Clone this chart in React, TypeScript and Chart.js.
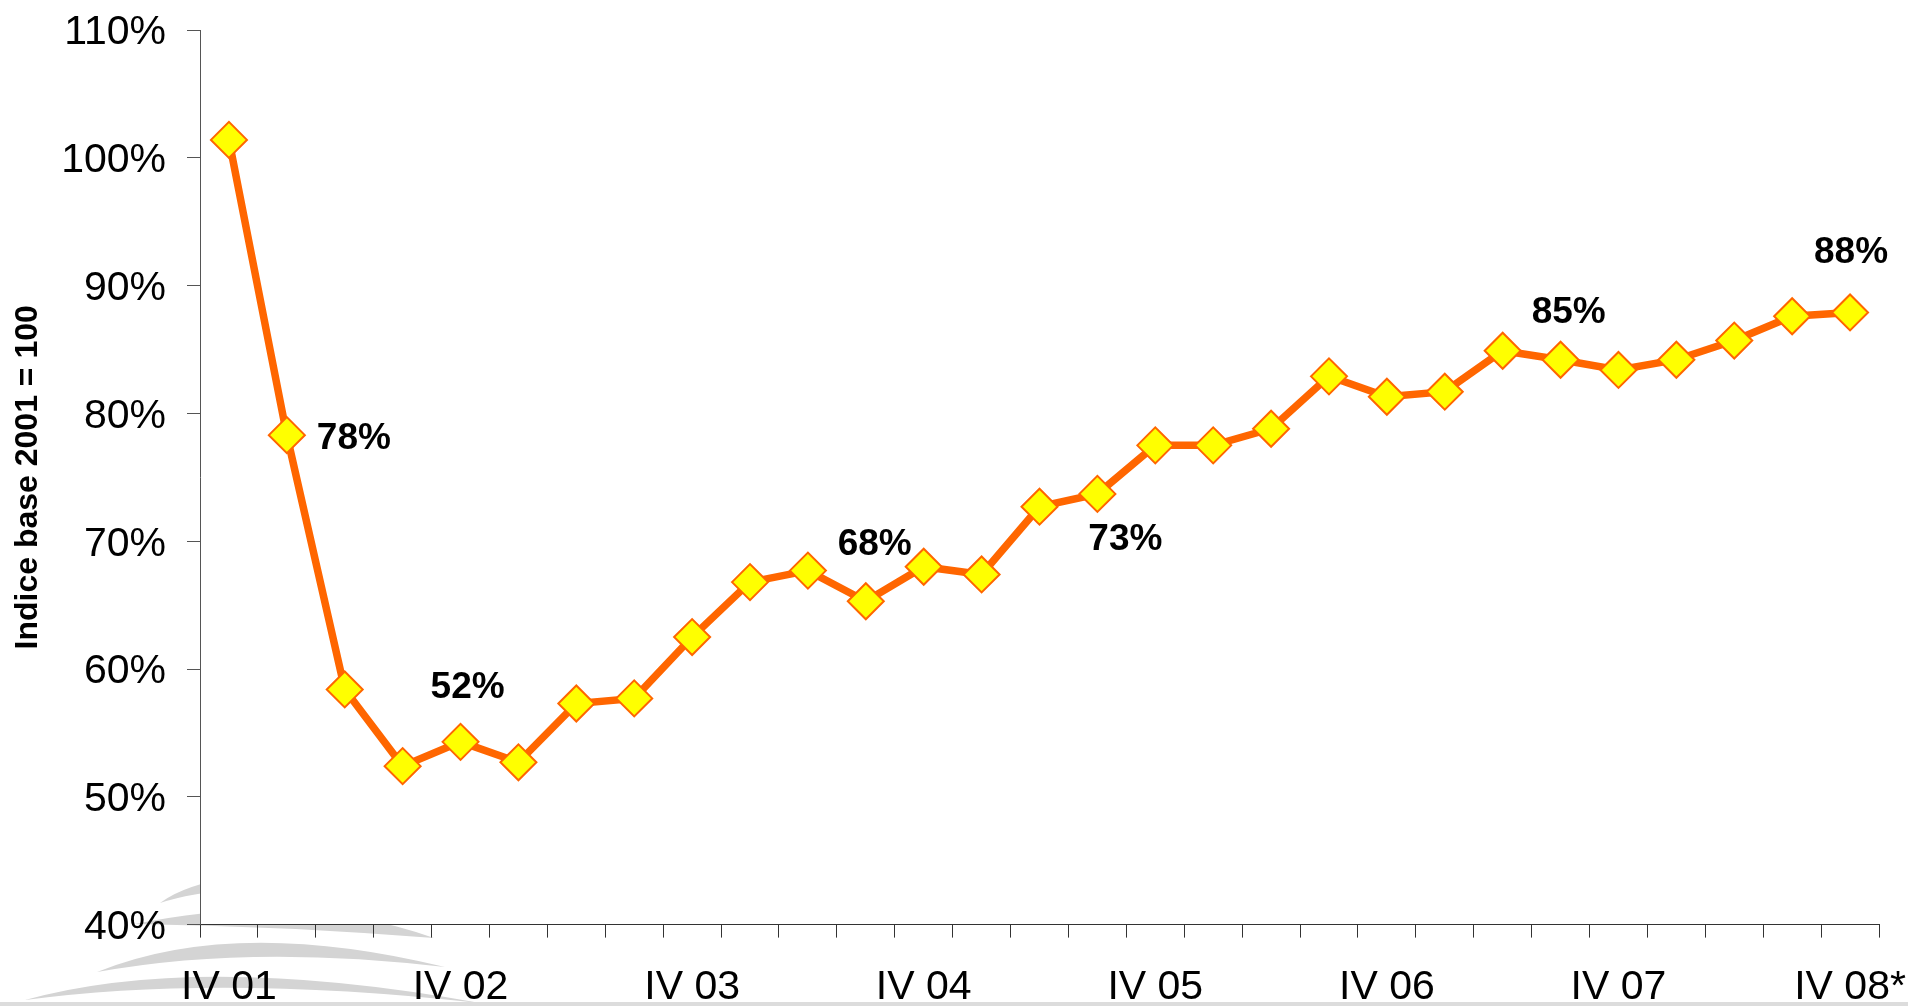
import React, { useEffect, useRef } from "react";
import { Chart, registerables } from "chart.js";

Chart.register(...registerables);

const categories = [
  "IV 01", "", "", "", "IV 02", "", "", "", "IV 03", "", "", "", "IV 04", "", "", "",
  "IV 05", "", "", "", "IV 06", "", "", "", "IV 07", "", "", "", "IV 08*",
];

const indexValues = [
  101.4, 78.3, 58.4, 52.4, 54.3, 52.7, 57.3, 57.7, 62.5, 66.8, 67.7, 65.3, 68.0, 67.4,
  72.7, 73.7, 77.5, 77.5, 78.8, 82.9, 81.3, 81.7, 84.9, 84.2, 83.4, 84.2, 85.7, 87.6, 87.9,
];

const yTicks = [40, 50, 60, 70, 80, 90, 100, 110];

const annotationIndex = [1, 3, 12, 15, 22, 28];
const annotationText = ["78%", "52%", "68%", "73%", "85%", "88%"];

const yTitle = "Indice base 2001 = 100";

const FONT = "'Liberation Sans', Arial, Helvetica, sans-serif";

// label offsets (pixels) relative to the annotated point
const annotationOffsets: [number, number][] = [
  [67, 4],
  [65, -78],
  [-49, -22],
  [28, 46],
  [66, -38],
  [1, -60],
];

const backgroundPlugin = {
  id: "bgSwoosh",
  beforeDraw(chart: any) {
    const { ctx, chartArea, width, height } = chart;
    ctx.save();
    ctx.fillStyle = "#ffffff";
    ctx.fillRect(0, 0, width, height);
    ctx.fillStyle = "#d4d4d4";
    // swoosh A
    ctx.beginPath();
    ctx.moveTo(160, 903);
    ctx.quadraticCurveTo(185, 884, 240, 876);
    ctx.lineTo(240, 889);
    ctx.quadraticCurveTo(190, 893, 160, 903);
    ctx.fill();
    // swoosh B
    ctx.beginPath();
    ctx.moveTo(135, 924);
    ctx.quadraticCurveTo(300, 890, 434, 938);
    ctx.quadraticCurveTo(280, 926, 135, 924);
    ctx.fill();
    // swoosh C
    ctx.beginPath();
    ctx.moveTo(97, 972);
    ctx.quadraticCurveTo(235, 916, 445, 967);
    ctx.quadraticCurveTo(250, 944, 97, 972);
    ctx.fill();
    // swoosh D
    ctx.beginPath();
    ctx.moveTo(25, 1000);
    ctx.quadraticCurveTo(200, 952, 480, 1003);
    ctx.quadraticCurveTo(220, 974, 25, 1000);
    ctx.fill();
    // bottom line
    ctx.fillStyle = "#dcdcdc";
    ctx.fillRect(0, 1002, width, 4);
    // plot area white
    ctx.fillStyle = "#ffffff";
    ctx.fillRect(chartArea.left, chartArea.top, chartArea.right - chartArea.left, chartArea.bottom - chartArea.top);
    ctx.restore();
  },
};

const annotationPlugin = {
  id: "pctLabels",
  afterDatasetsDraw(chart: any) {
    const { ctx } = chart;
    const xs = chart.scales.x;
    const ys = chart.scales.y;
    ctx.save();
    ctx.font = `bold 37px ${FONT}`;
    ctx.fillStyle = "#000000";
    ctx.textAlign = "center";
    ctx.textBaseline = "middle";
    annotationIndex.forEach((idx, i) => {
      const [dx, dy] = annotationOffsets[i];
      const x = xs.getPixelForValue(idx) + dx;
      const y = ys.getPixelForValue(indexValues[idx]) + dy;
      ctx.fillText(annotationText[i], x, y);
    });
    ctx.restore();
  },
};

function zeroPadding(scale: any) {
  scale.paddingTop = 0;
  scale.paddingBottom = 0;
  scale.paddingLeft = 0;
  scale.paddingRight = 0;
}

export default function App() {
  const canvasRef = useRef<HTMLCanvasElement | null>(null);

  useEffect(() => {
    document.body.style.margin = "0";
    const canvas = canvasRef.current;
    if (!canvas) return;
    const chart = new Chart(canvas, {
      type: "line",
      data: {
        labels: categories,
        datasets: [
          {
            data: indexValues,
            borderColor: "#FF6600",
            borderWidth: 7.5,
            tension: 0,
            pointStyle: "rectRot",
            pointRadius: 18,
            pointHoverRadius: 18,
            pointBackgroundColor: "#FFFF00",
            pointBorderColor: "#FF6600",
            pointBorderWidth: 2,
            fill: false,
          },
        ],
      },
      options: {
        responsive: false,
        animation: false,
        events: [],
        layout: { padding: { top: 30, right: 29, bottom: 0, left: 0 } },
        plugins: {
          legend: { display: false },
          tooltip: { enabled: false },
          title: { display: false },
        },
        scales: {
          x: {
            type: "category",
            offset: true,
            border: { display: true, color: "#333333", width: 1 },
            grid: {
              display: true,
              offset: true,
              drawOnChartArea: false,
              drawTicks: true,
              tickLength: 13,
              color: "#333333",
              lineWidth: 1,
            },
            ticks: {
              autoSkip: false,
              maxRotation: 0,
              minRotation: 0,
              padding: 25,
              color: "#000000",
              font: { family: FONT, size: 41 },
            },
            afterFit(scale: any) {
              scale.height = 81.4;
              zeroPadding(scale);
            },
          },
          y: {
            min: 40,
            max: 110,
            afterBuildTicks(scale: any) {
              scale.ticks = yTicks.map((v) => ({ value: v }));
            },
            border: { display: true, color: "#555555", width: 1 },
            grid: {
              display: true,
              drawOnChartArea: false,
              drawTicks: true,
              tickLength: 13,
              color: "#555555",
              lineWidth: 1,
            },
            ticks: {
              padding: 21,
              labelOffset: 3,
              color: "#000000",
              font: { family: FONT, size: 41 },
              callback: (v: any) => `${v}%`,
            },
            title: {
              display: true,
              text: yTitle,
              color: "#000000",
              font: { family: FONT, size: 32, weight: "bold" },
              padding: { top: 9, bottom: 0 },
            },
            afterFit(scale: any) {
              scale.width = 200;
              zeroPadding(scale);
            },
          },
        },
      },
      plugins: [backgroundPlugin, annotationPlugin],
    });
    return () => chart.destroy();
  }, []);

  return (
    <div style={{ position: "absolute", left: 0, top: 0, width: 1908, height: 1006, background: "#fff" }}>
      <canvas ref={canvasRef} width={1908} height={1006} style={{ display: "block" }} />
    </div>
  );
}
